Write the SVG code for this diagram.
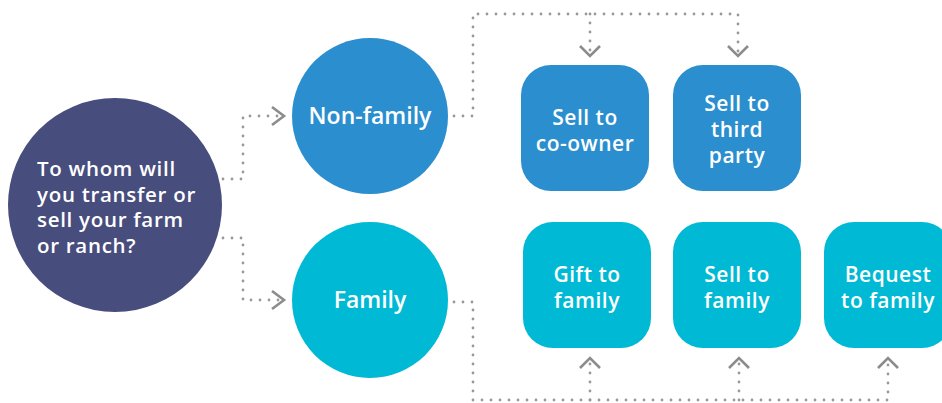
<svg xmlns="http://www.w3.org/2000/svg" width="942" height="403" viewBox="0 0 942 403">
<style>
.t{font-family:"Open Sans","Noto Sans","Liberation Sans",sans-serif;font-weight:600;font-size:21px;letter-spacing:0.5px;fill:#fff}
.q{font-size:20.5px;letter-spacing:0.7px}
.big{font-size:23px;letter-spacing:0}
.c{text-anchor:middle}
.dot{fill:none;stroke:#999;stroke-width:2.8;stroke-linecap:round;stroke-dasharray:0 9}
.ah{fill:none;stroke:#8c8c8c;stroke-width:2.6;stroke-linecap:butt;stroke-linejoin:miter}
.navy{fill:#474d7d}.blue{fill:#2a8ecf}.cyan{fill:#00b9d4}
</style>
<g id="connectors">
<path class="dot" d="M223 179 H243 V116 H280"/>
<path class="dot" d="M223 238 H243 V300 H280"/>
<path class="dot" d="M454 116 H473 V14 H738 V52"/>
<path class="dot" d="M590 14 V52"/>
<path class="dot" d="M454 302 H473 V400 H888 V362"/>
<path class="dot" d="M590 400 V362"/>
<path class="dot" d="M739 400 V362"/>
<polyline class="ah" points="272,107 284,116 272,125"/>
<polyline class="ah" points="272,291 284,300 272,309"/>
<polyline class="ah" points="580,46 590,56 600,46"/>
<polyline class="ah" points="728,46 738,56 748,46"/>
<polyline class="ah" points="580,368 590,358 600,368"/>
<polyline class="ah" points="729,368 739,358 749,368"/>
<polyline class="ah" points="878,368 888,358 898,368"/>
</g>
<g id="question">
<circle class="navy" cx="115" cy="205" r="107"/>
<text class="t q" x="37" y="176">To whom will</text>
<text class="t q" x="37" y="201.5">you transfer or</text>
<text class="t q" x="37" y="227">sell your farm</text>
<text class="t q" x="37" y="252.5">or ranch?</text>
</g>
<g id="nonfamily">
<circle class="blue" cx="370" cy="116" r="78"/>
<text class="t big c" x="370" y="124">Non-family</text>
</g>
<g id="family">
<circle class="cyan" cx="370" cy="300" r="78"/>
<text class="t big c" x="370" y="308">Family</text>
</g>
<g id="coowner">
<rect class="blue" x="521" y="65" width="128" height="126" rx="30"/>
<text class="t c" x="585" y="125">Sell to</text>
<text class="t c" x="585" y="151">co-owner</text>
</g>
<g id="thirdparty">
<rect class="blue" x="673" y="65" width="128" height="126" rx="30"/>
<text class="t c" x="737" y="111">Sell to</text>
<text class="t c" x="737" y="137">third</text>
<text class="t c" x="737" y="163">party</text>
</g>
<g id="gift">
<rect class="cyan" x="523" y="222" width="128" height="126" rx="30"/>
<text class="t c" x="587" y="282">Gift to</text>
<text class="t c" x="587" y="308">family</text>
</g>
<g id="sellfamily">
<rect class="cyan" x="673" y="222" width="128" height="126" rx="30"/>
<text class="t c" x="737" y="282">Sell to</text>
<text class="t c" x="737" y="308">family</text>
</g>
<g id="bequest">
<rect class="cyan" x="824" y="222" width="128" height="126" rx="30"/>
<text class="t c" x="888" y="282">Bequest</text>
<text class="t c" x="888" y="308">to family</text>
</g>
</svg>
